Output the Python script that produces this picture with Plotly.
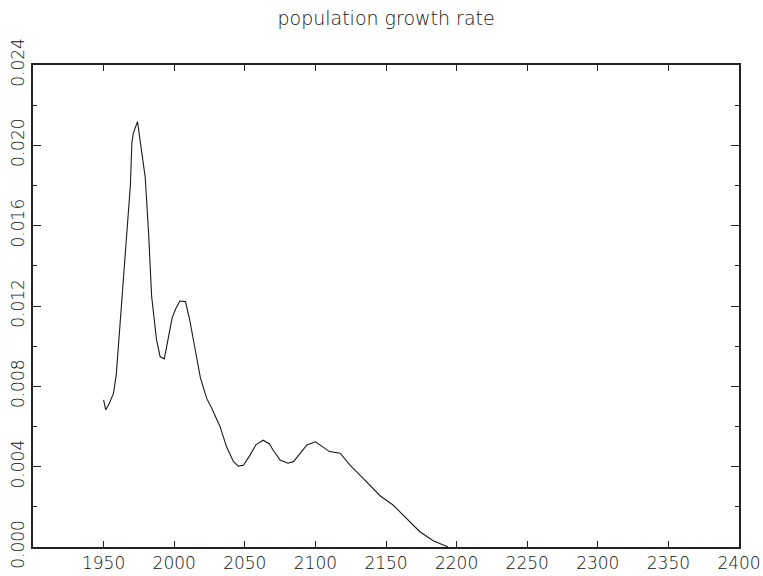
import plotly.graph_objects as go

# Population growth rate by year
years = [1950, 1951.5, 1954, 1957, 1959, 1961.5, 1964.5, 1967.5, 1969, 1970,
         1971, 1974, 1976.5, 1979.5, 1982, 1984, 1987.5, 1990, 1993, 1995.5,
         1998.5, 2001, 2004, 2008, 2011, 2014.5, 2018.5, 2023, 2026.5, 2032.5,
         2037, 2042, 2045.5, 2049, 2053.5, 2058, 2063, 2067.5, 2070, 2075,
         2080.5, 2084.5, 2089, 2094, 2100, 2104.5, 2110, 2117.5, 2124.5, 2134,
         2146, 2155, 2164.5, 2174, 2183.5, 2192, 2194]
growth = [0.00732, 0.00683, 0.00715, 0.00765, 0.00860, 0.01095, 0.01370, 0.01694, 0.01805, 0.02010,
          0.02060, 0.02118, 0.01993, 0.01840, 0.01545, 0.01250, 0.01031, 0.00948, 0.00937, 0.01025,
          0.01140, 0.01185, 0.01225, 0.01222, 0.01130, 0.00997, 0.00845, 0.00740, 0.00692, 0.00599,
          0.00500, 0.00425, 0.00403, 0.00407, 0.00455, 0.00510, 0.00532, 0.00513, 0.00483, 0.00433,
          0.00417, 0.00425, 0.00467, 0.00508, 0.00524, 0.00500, 0.00475, 0.00467, 0.00408, 0.00340,
          0.00254, 0.00209, 0.00143, 0.00076, 0.00031, 0.00003, 0.0]

x_ticks = [1950, 2000, 2050, 2100, 2150, 2200, 2250, 2300, 2350, 2400]
y_ticks = [0.000, 0.004, 0.008, 0.012, 0.016, 0.020, 0.024]

font_family = "DejaVu Sans"
axis_color = "#222222"
text_color = "#111111"

fig = go.Figure()
fig.add_trace(go.Scatter(
    x=years, y=growth, mode="lines",
    line=dict(color="#1a1a1a", width=1.1),
    hoverinfo="skip", showlegend=False,
))

fig.update_layout(
    width=763, height=576,
    margin=dict(l=33, r=24, t=65, b=29),
    paper_bgcolor="white", plot_bgcolor="white",
    title=dict(text="population growth rate", x=0.506, xanchor="center",
               y=1 - 18 / 576, yanchor="middle",
               font=dict(family=font_family, size=19, color=text_color, weight=300)),
    font=dict(family=font_family, size=16, color=text_color),
)

fig.update_xaxes(
    range=[1900, 2400], tickvals=x_ticks, ticktext=[str(v) for v in x_ticks],
    ticks="inside", ticklen=6, tickwidth=1, tickcolor=axis_color,
    automargin=False,
    showline=True, linewidth=2, linecolor=axis_color, mirror="allticks",
    showgrid=False, zeroline=False,
    tickfont=dict(family=font_family, size=17, color=text_color, weight=300),
)
fig.update_yaxes(
    range=[0, 0.024], tickvals=y_ticks, ticktext=[f"{v:.3f}" for v in y_ticks],
    ticks="inside", ticklen=8, tickwidth=1, tickcolor=axis_color, tickangle=-90,
    automargin=False,
    minor=dict(dtick=0.002, tick0=0, ticks="inside", ticklen=4, tickwidth=1, tickcolor=axis_color),
    showline=True, linewidth=2, linecolor=axis_color, mirror="allticks",
    showgrid=False, zeroline=False,
    tickfont=dict(family=font_family, size=17, color=text_color, weight=300),
)

fig.write_html("out.html")
